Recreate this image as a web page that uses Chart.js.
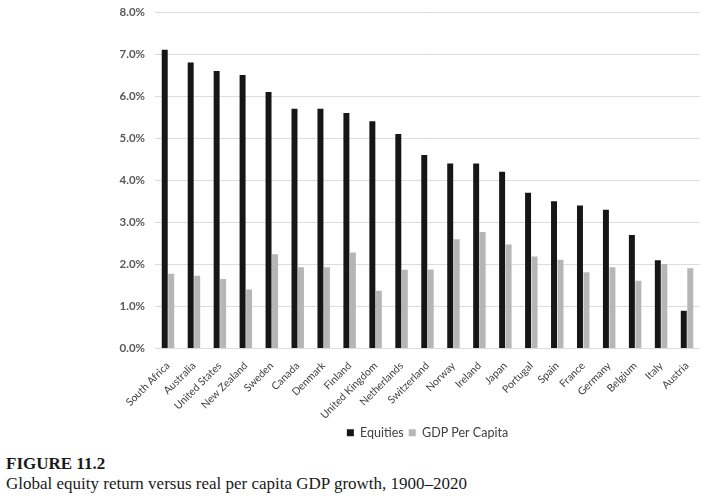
<!DOCTYPE html>
<html>
<head>
<meta charset="utf-8">
<script src="https://cdn.jsdelivr.net/npm/chart.js@4/dist/chart.umd.min.js"></script>
<style>
  body { margin: 0; background: #fff; }
  #wrap { position: relative; width: 709px; height: 503px; }
  #box { position: absolute; left: 0; top: 0; width: 709px; height: 453px; }
  .cap { position: absolute; left: 6px; font-family: "Liberation Serif", "Times New Roman", serif; font-size: 17px; color: #1a1a1a; white-space: nowrap; }
  #fig { top: 454px; font-weight: bold; }
  #desc { top: 474px; }
</style>
</head>
<body>
<div id="wrap">
  <div id="box"><canvas id="chart"></canvas></div>
  <div class="cap" id="fig">FIGURE 11.2</div>
  <div class="cap" id="desc">Global equity return versus real per capita GDP growth, 1900–2020</div>
</div>
<script>
const countries = ["South Africa", "Australia", "United States", "New Zealand", "Sweden", "Canada",
  "Denmark", "Finland", "United Kingdom", "Netherlands", "Switzerland", "Norway", "Ireland",
  "Japan", "Portugal", "Spain", "France", "Germany", "Belgium", "Italy", "Austria"];

// real annual returns, %
const equities = [7.1, 6.8, 6.6, 6.5, 6.1, 5.7, 5.7, 5.6, 5.4, 5.1, 4.6, 4.4, 4.4, 4.2, 3.7, 3.5, 3.4, 3.3, 2.7, 2.1, 0.9];
const gdpPerCapita = [1.78, 1.73, 1.65, 1.4, 2.24, 1.93, 1.93, 2.28, 1.37, 1.87, 1.88, 2.6, 2.77, 2.47, 2.19, 2.11, 1.81, 1.93, 1.61, 2.01, 1.91];

const yTicks = [0, 1, 2, 3, 4, 5, 6, 7, 8];

const ctx = document.getElementById("chart");

new Chart(ctx, {
  type: "bar",
  data: {
    labels: countries,
    datasets: [
      { label: "Equities", data: equities, backgroundColor: "#161616" },
      { label: "GDP Per Capita", data: gdpPerCapita, backgroundColor: "#b6b6b6" }
    ]
  },
  options: {
    responsive: true,
    maintainAspectRatio: false,
    animation: false,
    categoryPercentage: 0.5,
    barPercentage: 0.92,
    layout: { padding: { left: 109, right: 9, top: 12, bottom: 4 } },
    plugins: {
      tooltip: { enabled: false },
      legend: {
        position: "bottom",
        fullSize: false,
        labels: {
          font: { family: "Lato", size: 12.5 },
          color: "#404040",
          boxWidth: 7,
          boxHeight: 7,
          padding: 5
        }
      }
    },
    scales: {
      x: {
        grid: { display: false },
        border: { display: false },
        // labels are clipped to the axis box, so keep it tall enough
        afterFit: axis => { axis.height = 73; axis.paddingLeft = 0; axis.paddingRight = 0; },
        ticks: {
          minRotation: 45,
          maxRotation: 45,
          color: "#404040",
          font: { family: "Lato", size: 10.5 },
          padding: 3
        }
      },
      y: {
        min: 0,
        max: 8,
        afterBuildTicks: axis => { axis.ticks = yTicks.map(v => ({ value: v })); },
        afterFit: axis => { axis.width = 46; axis.paddingTop = 0; axis.paddingBottom = 0; },
        grid: { color: "#dcdcdc", lineWidth: 1, drawTicks: false },
        border: { display: false },
        ticks: {
          color: "#595959",
          font: { family: "Lato", size: 11.5, weight: "bold" },
          padding: 10,
          callback: v => v.toFixed(1) + "%"
        }
      }
    }
  }
});
</script>
</body>
</html>
